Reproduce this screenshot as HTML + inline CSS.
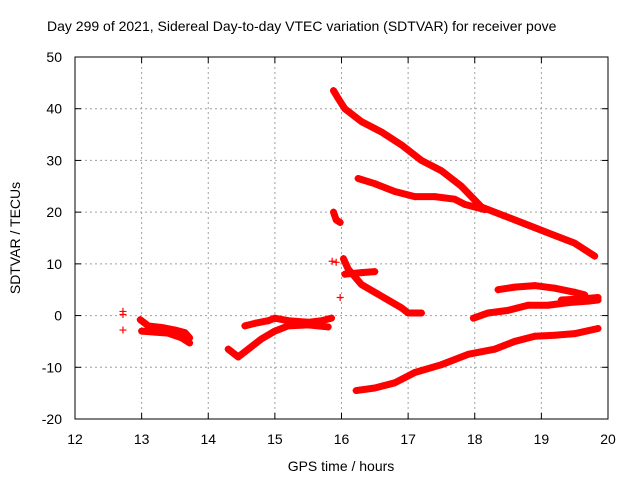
<!DOCTYPE html>
<html><head><meta charset="utf-8"><style>
body{margin:0;background:#fff}
svg{display:block;font-family:"Liberation Sans",sans-serif}
</style></head><body>
<svg id="chart" width="640" height="480" viewBox="0 0 640 480">
<rect width="640" height="480" fill="#fff"/>
<text x="47" y="31" font-size="14" fill="#000">Day 299 of 2021, Sidereal Day-to-day VTEC variation (SDTVAR) for receiver pove</text>
<g id="grid"></g><g id="axes"></g><g id="marks"></g>
<text x="341" y="471" font-size="14" text-anchor="middle">GPS time / hours</text>
<text transform="translate(20,238) rotate(-90)" font-size="14" text-anchor="middle">SDTVAR / TECUs</text>
</svg>
<script>
const xTicks=[12,13,14,15,16,17,18,19,20];
const yTicks=[-20,-10,0,10,20,30,40,50];
const trackA1=[[12.98,-0.8],[13.1,-2],[13.3,-2.3],[13.5,-2.8],[13.65,-3.3],[13.72,-4.3]];
const trackA2=[[13.0,-3],[13.2,-3.2],[13.4,-3.4],[13.6,-4.3],[13.72,-5.3]];
const isolated=[[12.72,0.8],[12.72,0.2],[12.72,-2.8],[15.98,3.5],[15.86,10.5],[15.92,10.3]];
const trackB=[[14.3,-6.5],[14.45,-8],[14.6,-6.5],[14.8,-4.5],[15.0,-3],[15.2,-2],[15.5,-1.8],[15.8,-2.2]];
const trackC=[[14.55,-2],[14.7,-1.5],[14.9,-1],[15.0,-0.5],[15.2,-1],[15.5,-1.3],[15.7,-1],[15.85,-0.5]];
const trackD=[[15.88,43.5],[15.95,42],[16.05,40],[16.3,37.5],[16.6,35.5],[16.9,33],[17.2,30],[17.5,28],[17.8,25],[18.1,21],[18.4,19.5],[18.8,17.5],[19.1,16],[19.5,14],[19.8,11.5]];
const trackE=[[16.25,26.5],[16.5,25.5],[16.8,24],[17.1,23],[17.4,23],[17.7,22.5],[17.85,21.5],[18.0,21],[18.15,20.5]];
const trackF=[[15.88,20],[15.92,18.5],[15.98,18]];
const trackG=[[16.03,11],[16.1,9],[16.3,6],[16.5,4.5],[16.7,3],[16.9,1.5],[17.0,0.5],[17.2,0.5]];
const trackG2=[[16.05,8],[16.3,8.3],[16.5,8.5]];
const trackH=[[18.35,5],[18.6,5.5],[18.9,5.8],[19.2,5.3],[19.5,4.5],[19.65,4]];
const trackI=[[17.98,-0.5],[18.2,0.5],[18.5,1],[18.8,2],[19.1,2],[19.4,2.5],[19.7,2.8],[19.85,3]];
const trackI2=[[19.3,3],[19.6,3.2],[19.85,3.5]];
const trackJ=[[16.22,-14.5],[16.5,-14],[16.8,-13],[17.1,-11],[17.5,-9.5],[17.9,-7.5],[18.3,-6.5],[18.6,-5],[18.9,-4],[19.2,-3.8],[19.5,-3.5],[19.85,-2.5]];
const tracks=[trackA1,trackA2,trackB,trackC,trackD,trackE,trackF,trackG,trackG2,trackH,trackI,trackI2,trackJ];

const X0=75,X1=608,Y0=419,Y1=57;
const xs=v=>X0+(v-12)/8*(X1-X0);
const ys=v=>Y0-(v+20)/70*(Y0-Y1);
const NS="http://www.w3.org/2000/svg";
const grid=document.getElementById('grid'),axes=document.getElementById('axes'),marks=document.getElementById('marks');
function mk(t,a,p){const e=document.createElementNS(NS,t);for(const k in a)e.setAttribute(k,a[k]);p.appendChild(e);return e;}
xTicks.forEach(t=>{const x=xs(t);
 if(t>12&&t<20){const l=mk('line',{x1:x,x2:x,y1:Y1,y2:Y0,stroke:'#a0a0a0','stroke-dasharray':'2,3'},grid);
 
 }
 const tx=mk('text',{x:x,y:Y0+25,'font-size':14,'text-anchor':'middle'},axes);tx.textContent=t;
 
 
 mk('line',{x1:x,x2:x,y1:Y0,y2:Y0-6,stroke:'#000'},axes);mk('line',{x1:x,x2:x,y1:Y1,y2:Y1+6,stroke:'#000'},axes);});
yTicks.forEach(t=>{const y=ys(t);
 if(t>-20&&t<50){const l=mk('line',{x1:X0,x2:X1,y1:y,y2:y,stroke:'#a0a0a0','stroke-dasharray':'2,3'},grid);
 
 }
 const tx=mk('text',{x:X0-13,y:y+5,'font-size':14,'text-anchor':'end'},axes);tx.textContent=t;
 
 
 mk('line',{x1:X0,x2:X0+6,y1:y,y2:y,stroke:'#000'},axes);mk('line',{x1:X1,x2:X1-6,y1:y,y2:y,stroke:'#000'},axes);});
const fr=mk('rect',{x:X0,y:Y1,width:X1-X0,height:Y0-Y1,fill:'none',stroke:'#000'},axes);


function plus(x,y){mk('path',{d:`M${x-3.5},${y}h7M${x},${y-3.5}v7`,stroke:'#f00','stroke-width':1.2},marks);}
tracks.forEach(tr=>{
 const pl=mk('polyline',{points:tr.map(p=>xs(p[0])+','+ys(p[1])).join(' '),fill:'none',stroke:'#f00','stroke-width':7,'stroke-linejoin':'round','stroke-linecap':'round'},marks);
 
 
 tr.forEach(p=>plus(xs(p[0]),ys(p[1])));});
isolated.forEach(p=>plus(xs(p[0]),ys(p[1])));
</script>
</body></html>
